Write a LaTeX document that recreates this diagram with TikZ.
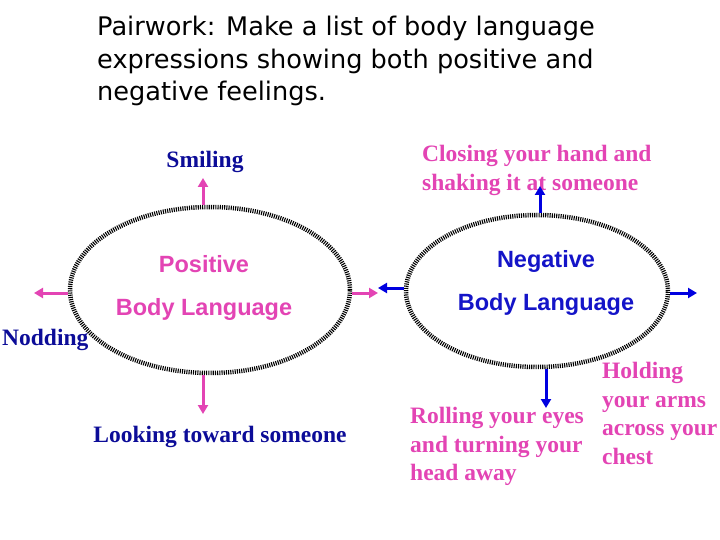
\documentclass[tikz,border=0pt]{standalone}
\usepackage{fontspec}
\usepackage{xcolor}
\usetikzlibrary{shapes.geometric,arrows.meta}
\setmainfont{Liberation Serif}
\setsansfont{Liberation Sans}
\newfontfamily\titlefont{DejaVu Sans}
\definecolor{bodyPink}{HTML}{E344B4}
\definecolor{labelBlue}{HTML}{0C0C98}
\definecolor{wordBlue}{HTML}{1414C8}
\definecolor{arrowBlue}{HTML}{0000E0}

\tikzset{
  blob/.style={ellipse, draw=black, line width=4.5pt, dash pattern=on 1.1pt off 1.1pt, inner sep=0pt},
  pinkarrow/.style={draw=bodyPink, line width=3pt, -{Triangle[length=9pt,width=10pt]}},
  bluearrow/.style={draw=arrowBlue, line width=3pt, -{Triangle[length=9pt,width=10pt]}},
  serifbox/.style={font=\fontsize{23.5}{28.5}\selectfont\bfseries, inner sep=0pt, align=left},
  sansbox/.style={font=\fontsize{23.5}{43}\selectfont\sffamily\bfseries, inner sep=0pt, align=center}
}

\begin{document}
\begin{tikzpicture}[x=1pt, y=-1pt]
  \useasboundingbox[fill=white] (0,0) rectangle (720,540);

  % title
  \node[anchor=north west, inner sep=0pt, align=left, font=\titlefont\fontsize{25.6}{32.5}\selectfont]
    (title) at (97,16) {Pairwork: Make a list of body language\\expressions showing both positive and\\negative feelings.};

  % the two ellipses
  \node[blob, minimum width=280pt, minimum height=166pt] (pos) at (210,290) {};
  \node[blob, minimum width=262pt, minimum height=152pt] (neg) at (537,291) {};

  \node[sansbox, text=bodyPink, anchor=north] (postxt) at (204,255) {Positive\\Body Language};
  \node[sansbox, text=wordBlue, anchor=north] (negtxt) at (546,250) {Negative\\Body Language};

  % positive labels
  \node[serifbox, text=labelBlue, anchor=base] (smiling) at (205,168) {Smiling};
  \node[serifbox, text=labelBlue, anchor=base] (looking) at (220,442) {Looking toward someone};
  \node[serifbox, text=labelBlue, anchor=base west] (nodding) at (2,345) {Nodding};

  % negative labels
  \node[serifbox, text=bodyPink, anchor=north west] (shaking) at (422,145) {Closing your hand and\\shaking it at someone};
  \node[serifbox, text=bodyPink, anchor=north west] (rolling) at (410,407) {Rolling your eyes\\and turning your\\head away};
  \node[serifbox, text=bodyPink, anchor=north west] (holding) at (602,362) {Holding\\your arms\\across your\\chest};

  % arrow ends
  \coordinate (smile) at (203,178);
  \coordinate (look) at (203,414);
  \coordinate (nod) at (34,293);
  \coordinate (posR) at (378,293);
  \coordinate (negL) at (378,288);
  \coordinate (negR) at (697,293);
  \coordinate (shake) at (540,186);
  \coordinate (roll) at (546,408);

  \draw[pinkarrow] (smile |- pos.north) -- (smile);
  \draw[pinkarrow] (look |- pos.south) -- (look);
  \draw[pinkarrow] (pos.west |- nod) -- (nod);
  \draw[pinkarrow] (pos.east |- posR) -- (posR);
  \draw[bluearrow] (neg.west |- negL) -- (negL);
  \draw[bluearrow] (neg.east |- negR) -- (negR);
  \draw[bluearrow] (shake |- neg.north) -- (shake);
  \draw[bluearrow] (roll |- neg.south) -- (roll);
\end{tikzpicture}
\end{document}
